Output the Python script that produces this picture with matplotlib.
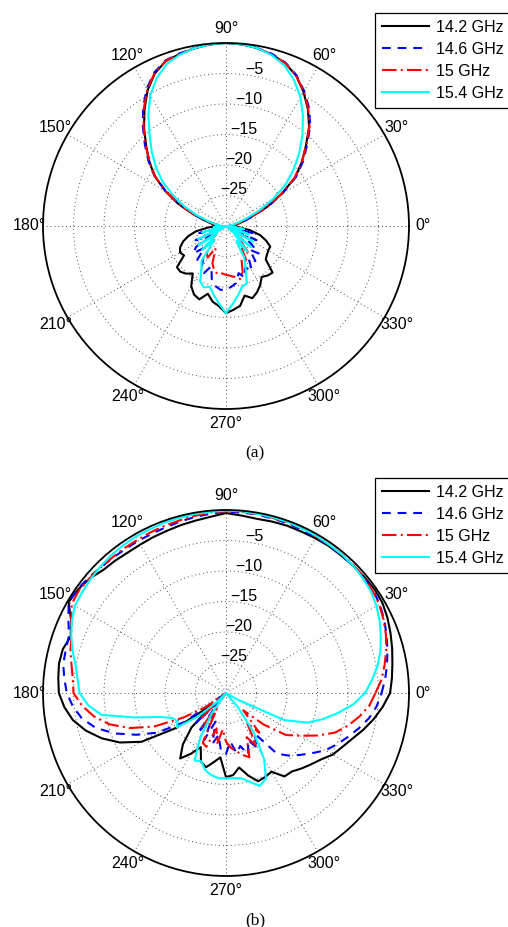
import numpy as np
import matplotlib
matplotlib.use("Agg")
import matplotlib.pyplot as plt

plt.rcParams['font.family'] = ['Liberation Sans', 'DejaVu Sans']

# angles in degrees, 5 degree steps
angles = list(range(0, 360, 5))

series_names = ['14.2 GHz', '14.6 GHz', '15 GHz', '15.4 GHz']

# (a) normalized patterns in dB
a_142 = [-29, -28.5, -28, -27, -25.5, -22.5, -19.5, -16.2, -13.8, -11.5, -8.8, -6.6, -4.6, -2.8, -1.6, -0.9, -0.4, -0.1,
         0, -0.1, -0.4, -0.8, -1.2, -2.4, -4.3, -6.7, -9.1, -11.5, -13.6, -15.7, -18.5, -21.3, -24.2, -26.3, -27.5, -28,
         -28.5, -27, -25, -23.6, -22.5, -21.7, -21.3, -21.6, -19.5, -19.4, -19.8, -20.5, -18.6, -17.6, -17.2, -18.5, -17.4, -16.8,
         -15.7, -16.2, -16.7, -18.2, -17.4, -18, -18.8, -19.8, -19.4, -19.2, -21.5, -21.8, -22, -22, -23, -24.2, -26, -28]
a_146 = [-29.5, -29, -28, -27, -25.3, -22.3, -19.3, -16, -13.5, -11.2, -8.5, -6.3, -4.4, -2.7, -1.5, -0.8, -0.4, -0.1,
         0, -0.1, -0.4, -0.7, -1.1, -2.2, -4.0, -6.3, -8.8, -11.2, -13.4, -15.8, -18.6, -21.5, -24.4, -26.5, -28, -28.8,
         -29.5, -29, -30, -25.5, -30, -24.5, -27, -24, -23, -25, -22.5, -23.5, -22, -21.5, -23, -21, -20, -19.5,
         -19.5, -20, -20.5, -22, -21, -22.5, -21.5, -23.5, -22.5, -24.5, -23, -25, -27, -24.5, -30, -25.5, -30, -29.5]
a_150 = [-29.5, -29, -28.2, -27.2, -25.6, -22.7, -19.6, -16.3, -13.8, -11.4, -8.7, -6.5, -4.5, -2.8, -1.6, -0.9, -0.4, -0.1,
         0, -0.1, -0.4, -0.8, -1.2, -2.3, -4.2, -6.5, -9.0, -11.4, -13.6, -15.8, -18.6, -21.5, -24.4, -26.5, -28, -29,
         -29.5, -29, -30, -27, -30, -26, -30, -25.5, -28, -25, -27, -24.5, -24, -26, -23.5, -22.5, -22, -22.2,
         -22, -21.8, -21.5, -21, -22, -24, -23, -25.5, -24, -27, -25.5, -30, -26, -30, -27.5, -30, -28, -29.5]
a_154 = [-29.5, -29.5, -29, -28, -26.5, -24, -21, -18, -15.5, -13, -10.5, -8, -5.6, -3.6, -2.0, -1.0, -0.4, -0.1,
         0, -0.1, -0.4, -0.9, -1.7, -3.2, -5.2, -7.8, -10.5, -12.8, -15, -17.3, -20, -22.5, -25, -27, -28.3, -29,
         -28.5, -28, -30, -26, -30, -25, -30, -24.5, -28, -24.5, -27, -23, -22, -20, -19.3, -19.7, -18.5, -17.2,
         -15.7, -17.2, -18.5, -19.7, -20, -22.4, -24, -27, -24.5, -28, -24.6, -30, -25, -30, -26, -30, -27, -29]

# (b)
b_142 = [-3.1, -2.7, -2.3, -1.8, -1.3, -0.8, -0.4, -0.3, -0.4, -0.5, -0.6, -0.6, -0.7, -0.8, -0.8, -0.9, -1.0, -0.8,
         -0.5, -1.0, -1.3, -1.5, -1.7, -1.8, -1.9, -1.9, -1.7, -1.5, -0.8, -0.4, -0.2, -2.0, -2.9, -2.3, -2.2, -2.4,
         -2.6, -3.4, -4.5, -6.2, -8.3, -10.8, -14, -20, -27, -22, -19, -16.9, -18.5, -20.2, -18, -17.4, -18.5, -19.4,
         -16.2, -16.5, -17.6, -16, -14.6, -14.8, -15.1, -13.3, -13.2, -12.5, -11.8, -11.0, -9.8, -9.0, -8.0, -6.7, -5.4, -4.2]
b_146 = [-4.5, -3.8, -3.2, -2.6, -2.0, -1.4, -0.9, -0.6, -0.5, -0.5, -0.5, -0.5, -0.5, -0.5, -0.4, -0.4, -0.3, -0.3,
         -0.3, -0.5, -0.7, -0.9, -1.1, -1.2, -1.2, -1.2, -1.1, -0.9, -0.6, -0.3, -0.2, -1.5, -2.6, -2.8, -2.9, -3.4,
         -3.9, -4.8, -6.0, -7.9, -10.6, -13.8, -17, -21.7, -30, -23, -28, -22, -26, -21.5, -25, -21.4, -23, -20.5,
         -20, -22, -20, -21, -19.3, -21.5, -19.5, -22, -17, -15.5, -14.2, -12.8, -11.2, -10, -8.8, -7.5, -6.2, -5.2]
b_150 = [-5.5, -4.4, -3.6, -2.8, -2.1, -1.5, -1.0, -0.7, -0.5, -0.4, -0.4, -0.4, -0.4, -0.3, -0.3, -0.3, -0.2, -0.2,
         -0.2, -0.3, -0.5, -0.7, -0.8, -0.9, -1.0, -1.0, -1.0, -0.9, -0.8, -0.6, -0.8, -2.0, -3.0, -3.6, -4.3, -4.8,
         -5.0, -6.3, -8.0, -10.2, -13.2, -17, -22, -26, -30, -24, -30, -23, -27, -21, -20.6, -24, -21.5, -24,
         -22, -21, -20.3, -19.5, -18.8, -22, -20, -24, -21.5, -26, -22, -18, -16, -13.5, -11, -9.3, -7.8, -6.4]
b_154 = [-7.2, -6.0, -4.8, -3.8, -3.0, -2.2, -1.5, -1.0, -0.7, -0.5, -0.4, -0.4, -0.3, -0.3, -0.2, -0.2, -0.2, -0.1,
         -0.1, -0.2, -0.2, -0.3, -0.3, -0.4, -0.4, -0.5, -0.6, -0.8, -1.0, -1.2, -1.4, -2.1, -3.0, -4.0, -5.0, -5.6,
         -6.0, -7.3, -9.3, -14.5, -18.5, -20.3, -20.8, -20.2, -24, -28, -30, -26, -21.6, -17.8, -18.1, -16.9, -16.3, -16,
         -16, -16, -15.8, -14.9, -13.8, -14.5, -17.5, -22, -27, -30, -30, -30, -28, -19.5, -15.8, -13.5, -11.3, -9.0]

rings = [-25, -20, -15, -10, -5]
spokes = list(range(0, 360, 30))

styles = [dict(color='k', linestyle='-'),
          dict(color='#0000ff', linestyle='--', dashes=(4.2, 3.3)),
          dict(color='#ff0000', linestyle='-.', dashes=(7, 2, 1, 2)),
          dict(color='#00ffff', linestyle='-')]


def polar_panel(ax, data):
    th = np.deg2rad(angles + [angles[0]])
    for vals, name, st in zip(data, series_names, styles):
        r = np.clip(np.array(vals + [vals[0]]) + 30, 0, None)
        ax.plot(th, r, lw=1.5, label=name, **st)
    ax.set_ylim(0, 30)
    ax.set_yticks([v + 30 for v in rings])
    ax.set_yticklabels([])
    ax.set_xticks(np.deg2rad(spokes))
    ax.set_xticklabels([])
    ax.tick_params(axis='x', direction='in', length=3, width=1, color='k')
    ax.grid(True, color='0.3', linestyle=(0, (1, 3)), linewidth=0.7)
    ax.spines['polar'].set_linewidth(1.3)
    ax.spines['polar'].set_color('k')
    # angle labels outside the circle
    for s in spokes:
        ax.text(np.deg2rad(s), 32.3, '%d°' % s, ha='center', va='center', fontsize=11.5)
    # ring labels along 80 degrees
    for v in rings:
        ax.annotate(str(v).replace('-', '\u2212'), xy=(np.deg2rad(80), v + 30), xytext=(1.5, 4.3),
                    textcoords='offset points', ha='center', va='center', fontsize=11.5)


fig = plt.figure(figsize=(5.08, 9.27), dpi=100)
W, H = 508.0, 927.0

ax1 = fig.add_axes([43 / W, 1 - 409 / H, 366 / W, 366 / H], projection='polar')
polar_panel(ax1, [a_142, a_146, a_150, a_154])
ax2 = fig.add_axes([43 / W, 1 - 876 / H, 366 / W, 366 / H], projection='polar')
polar_panel(ax2, [b_142, b_146, b_150, b_154])

for ax, top in [(ax1, 12.7), (ax2, 477.7)]:
    leg = ax.legend(loc='upper left', bbox_to_anchor=(375 / W, 1 - top / H), bbox_transform=fig.transFigure,
                    borderaxespad=0, fontsize=11.5, handlelength=2.95, handletextpad=0.4, borderpad=0.45,
                    labelspacing=0.44, fancybox=False, framealpha=1, edgecolor='k')
    leg.get_frame().set_linewidth(0.9)

fig.text(255 / W, 1 - 453 / H, '(a)', ha='center', va='center', family='Liberation Serif', fontsize=12.5)
fig.text(255 / W, 1 - 920 / H, '(b)', ha='center', va='center', family='Liberation Serif', fontsize=12.5)

fig.savefig('out.png', dpi=100)
